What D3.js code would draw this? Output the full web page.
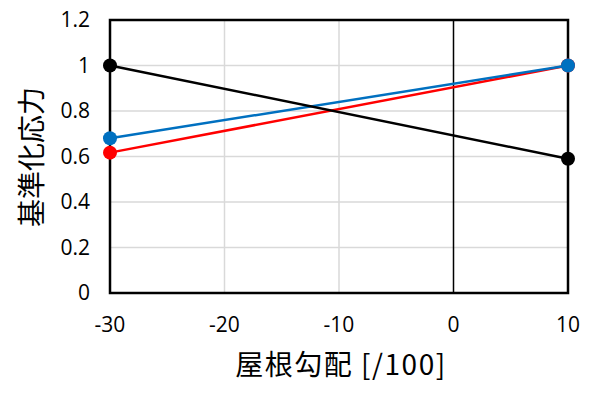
<!DOCTYPE html>
<html>
<head>
<meta charset="utf-8">
<script src="https://cdn.jsdelivr.net/npm/d3@7"></script>
<style>
  body { margin: 0; background: #fff; }
</style>
</head>
<body>
<script>
// roof pitch vs normalised stress
var xValues = [-30, 10];
var redValues = [0.617, 1.0];
var blueValues = [0.68, 1.0];
var blackValues = [1.0, 0.59];
var xTicks = [-30, -20, -10, 0, 10];
var yTicks = [0, 0.2, 0.4, 0.6, 0.8, 1, 1.2];

var width = 596;
var height = 399;
var margin = {left: 110, top: 20, right: 28, bottom: 106};

var svg = d3.select('body')
            .append('svg')
            .attr('width', width)
            .attr('height', height);

var x = d3.scaleLinear().domain([-30, 10]).range([margin.left, width - margin.right]);
var y = d3.scaleLinear().domain([0, 1.2]).range([height - margin.bottom, margin.top]);

// gridlines
svg.selectAll('line.hgrid')
   .data(yTicks.slice(1, -1))
   .enter().append('line')
   .attr('x1', x(-30)).attr('x2', x(10))
   .attr('y1', function(d) { return y(d); })
   .attr('y2', function(d) { return y(d); })
   .attr('stroke', '#d9d9d9').attr('stroke-width', 1.5);

svg.selectAll('line.vgrid')
   .data([-20, -10])
   .enter().append('line')
   .attr('x1', function(d) { return x(d); })
   .attr('x2', function(d) { return x(d); })
   .attr('y1', y(0)).attr('y2', y(1.2))
   .attr('stroke', '#d9d9d9').attr('stroke-width', 1.5);

// zero line
svg.append('line')
   .attr('x1', x(0)).attr('x2', x(0))
   .attr('y1', y(0)).attr('y2', y(1.2))
   .attr('stroke', '#000').attr('stroke-width', 1.5);

// frame
svg.append('rect')
   .attr('x', x(-30)).attr('y', y(1.2))
   .attr('width', x(10) - x(-30)).attr('height', y(0) - y(1.2))
   .attr('fill', 'none').attr('stroke', '#000').attr('stroke-width', 2.5);

// tick labels
svg.selectAll('text.ytick')
   .data(yTicks)
   .enter().append('text')
   .attr('x', 90)
   .attr('y', function(d) { return y(d); })
   .attr('dy', '0.35em')
   .attr('text-anchor', 'end')
   .attr('font-family', 'Open Sans, sans-serif')
   .attr('font-size', 21)
   .text(function(d) { return d; });

svg.selectAll('text.xtick')
   .data(xTicks)
   .enter().append('text')
   .attr('x', function(d) { return x(d); })
   .attr('y', 325)
   .attr('dy', '0.35em')
   .attr('text-anchor', 'middle')
   .attr('font-family', 'Open Sans, sans-serif')
   .attr('font-size', 21)
   .text(function(d) { return d; });

// axis titles
svg.append('text')
   .attr('x', 341).attr('y', 365)
   .attr('dy', '0.35em')
   .attr('text-anchor', 'middle')
   .attr('font-family', 'Noto Sans CJK JP, sans-serif')
   .attr('font-size', 28)
   .attr('letter-spacing', 1.5)
   .text('屋根勾配 [/100]');

svg.append('text')
   .attr('transform', 'translate(32,157) rotate(-90)')
   .attr('dy', '0.35em')
   .attr('text-anchor', 'middle')
   .attr('font-family', 'Noto Sans CJK JP, sans-serif')
   .attr('font-size', 28)
   .text('基準化応力');

// series
var series = [
  {color: '#ff0000', values: redValues},
  {color: '#0070c0', values: blueValues},
  {color: '#000000', values: blackValues}
];

var line = d3.line()
  .x(function(d, i) { return x(xValues[i]); })
  .y(function(d) { return y(d); });

series.forEach(function(s) {
  svg.append('path')
     .attr('d', line(s.values))
     .attr('fill', 'none')
     .attr('stroke', s.color)
     .attr('stroke-width', 2.5);

  svg.selectAll(null)
     .data(s.values)
     .enter().append('circle')
     .attr('cx', function(d, i) { return x(xValues[i]); })
     .attr('cy', function(d) { return y(d); })
     .attr('r', 7)
     .attr('fill', s.color);
});
</script>
</body>
</html>
